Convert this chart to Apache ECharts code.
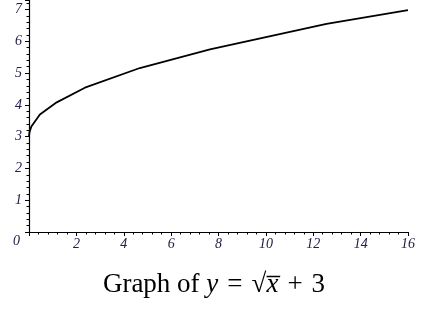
<!DOCTYPE html>
<html><head><meta charset="utf-8">
<script src="https://cdn.jsdelivr.net/npm/echarts@6/dist/echarts.min.js"></script>
<style>html,body{margin:0;padding:0;background:#fff}#c{width:428px;height:310px}</style>
</head><body><div id="c"></div>
<script>
// Values
const xValues = [0, 0.02, 0.1, 0.46, 1.17, 2.36, 4.68, 7.64, 12.56, 16];
const yValues = [3.0, 3.14, 3.32, 3.7, 4.08, 4.54, 5.16, 5.75, 6.55, 6.98];
const xTicks = [2, 4, 6, 8, 10, 12, 14, 16];
const yTicks = [0, 1, 2, 3, 4, 5, 6, 7];
const titleText = '{n|Graph of }{i|y}{n|\u2004=\u2004√}{i|x\u0305}{n|\u2004+\u20043}';

const points = xValues.map((x, i) => [x, yValues[i]]);
const labelColor = '#20204a';
const labelFont = { fontFamily: 'Liberation Serif', fontStyle: 'italic', fontWeight: 'normal', fontSize: 14, color: labelColor };

const chart = echarts.init(document.getElementById('c'), null, { renderer: 'canvas' });
chart.setOption({
  animation: false,
  backgroundColor: '#fff',
  title: {
    text: titleText,
    left: 'center',
    top: 266,
    textStyle: {
      fontWeight: 'normal',
      rich: {
        n: { fontFamily: 'Liberation Serif', fontWeight: 'normal', fontSize: 27, color: '#000' },
        i: { fontFamily: 'Liberation Serif', fontStyle: 'italic', fontWeight: 'normal', fontSize: 27, color: '#000' }
      }
    }
  },
  grid: { left: 29, right: 20, top: 0, bottom: 78, containLabel: false },
  xAxis: {
    type: 'value', min: 0, max: 16, interval: 2,
    axisLine: { show: true, onZero: false, lineStyle: { color: '#000', width: 1.2 } },
    axisTick: { show: true, length: 4, lineStyle: { color: '#000' } },
    minorTick: { show: true, splitNumber: 5, length: 2.5, lineStyle: { color: '#000' } },
    splitLine: { show: false },
    axisLabel: Object.assign({}, labelFont, {
      margin: 5,
      formatter: v => xTicks.includes(v) ? String(v) : ''
    })
  },
  yAxis: {
    type: 'value', min: 0, max: 7.3, interval: 1,
    axisLine: { show: true, onZero: false, lineStyle: { color: '#000', width: 1.2 } },
    axisTick: { show: true, length: 4, lineStyle: { color: '#000' } },
    minorTick: { show: true, splitNumber: 5, length: 2.5, lineStyle: { color: '#000' } },
    splitLine: { show: false },
    axisLabel: Object.assign({}, labelFont, {
      margin: 7,
      showMaxLabel: false,
      formatter: v => yTicks.includes(v) ? (v === 0 ? '{z|0}' : String(v)) : '',
      rich: { z: Object.assign({}, labelFont, { padding: [18, 2, 0, 0] }) }
    })
  },
  series: [{
    type: 'line',
    data: points,
    showSymbol: false,
    symbol: 'none',
    lineStyle: { color: '#000', width: 1.8 }
  }]
});
</script></body></html>
